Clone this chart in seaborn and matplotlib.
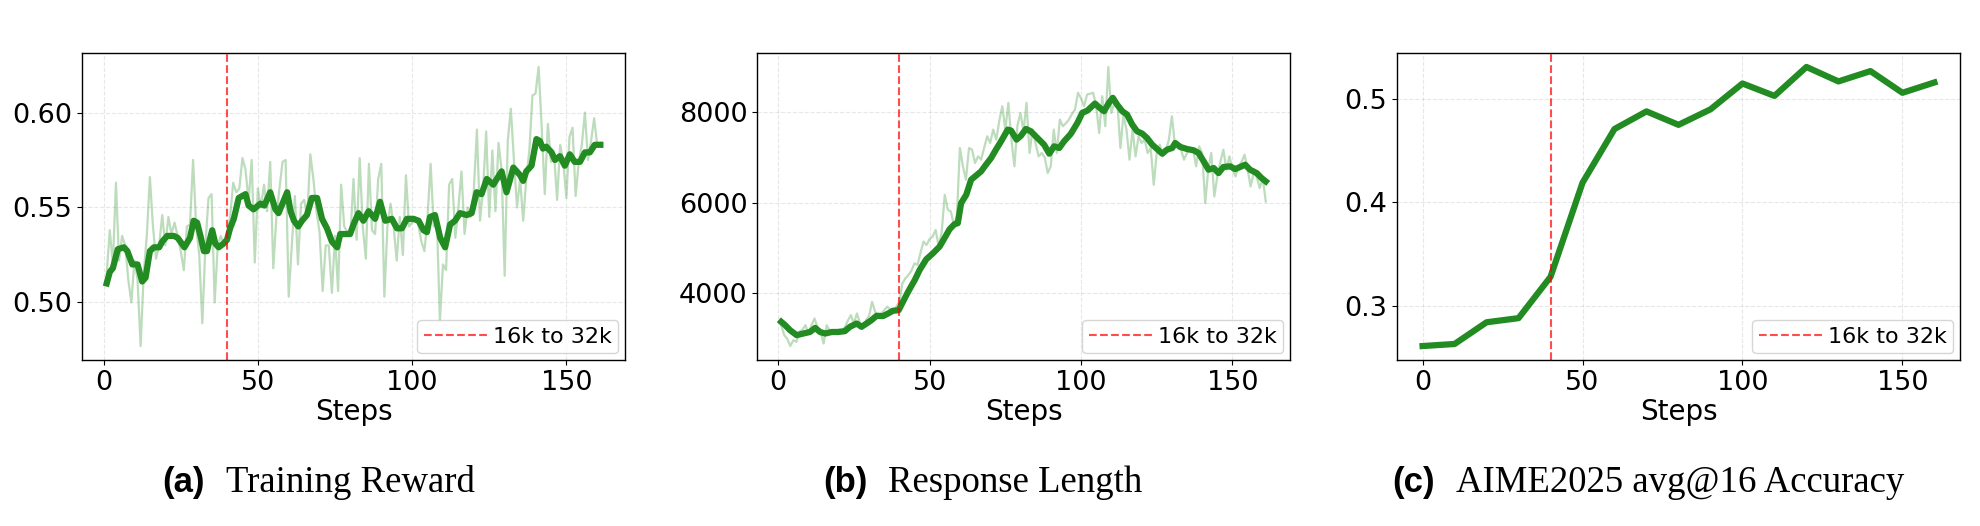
import numpy as np
import pandas as pd
import matplotlib
matplotlib.use("Agg")
import matplotlib.pyplot as plt
import seaborn as sns

# ---------------- data ----------------
steps_ab = list(range(1, 162))

reward_raw = [
    0.515, 0.538, 0.520, 0.563, 0.522, 0.535, 0.530, 0.512, 0.500, 0.522,
    0.512, 0.477, 0.515, 0.535, 0.566, 0.540, 0.523, 0.530, 0.546, 0.530,
    0.545, 0.536, 0.542, 0.535, 0.527, 0.517, 0.540, 0.541, 0.575, 0.540,
    0.525, 0.489, 0.530, 0.555, 0.557, 0.500, 0.530, 0.535, 0.530, 0.535,
    0.545, 0.563, 0.558, 0.560, 0.576, 0.570, 0.553, 0.575, 0.521, 0.560,
    0.550, 0.562, 0.548, 0.574, 0.518, 0.545, 0.560, 0.574, 0.575, 0.503,
    0.530, 0.556, 0.520, 0.552, 0.554, 0.545, 0.578, 0.565, 0.548, 0.537,
    0.506, 0.530, 0.530, 0.505, 0.535, 0.506, 0.562, 0.540, 0.537, 0.535,
    0.565, 0.533, 0.576, 0.540, 0.523, 0.573, 0.538, 0.536, 0.565, 0.573,
    0.503, 0.540, 0.552, 0.540, 0.522, 0.545, 0.525, 0.567, 0.540, 0.542,
    0.545, 0.541, 0.532, 0.527, 0.545, 0.573, 0.540, 0.545, 0.490, 0.520,
    0.517, 0.562, 0.565, 0.534, 0.550, 0.569, 0.536, 0.550, 0.545, 0.559,
    0.591, 0.543, 0.560, 0.590, 0.545, 0.580, 0.548, 0.584, 0.570, 0.514,
    0.585, 0.602, 0.575, 0.550, 0.565, 0.543, 0.565, 0.580, 0.609, 0.610,
    0.624, 0.592, 0.557, 0.594, 0.574, 0.578, 0.554, 0.583, 0.574, 0.555,
    0.587, 0.592, 0.556, 0.574, 0.583, 0.600, 0.575, 0.585, 0.597, 0.583,
    0.584,
]

reward_smooth_steps = [
    1, 2, 3, 4.6, 6.6, 7.7, 9.3, 11, 12.5, 13.6, 15, 16.3, 18, 19, 20.6, 22.8,
    24, 26.2, 28, 29.2, 30.3, 31.4, 32.5, 33.5, 35.2, 36.2, 37.3, 38.9, 40, 41,
    42.2, 43.8, 44.9, 46, 47, 48.6, 50.8, 52.1, 54, 55.7, 56.7, 59.5, 60.6,
    61.7, 63.1, 64.3, 65.9, 67.5, 69.2, 70.8, 72.4, 74, 75.7, 76.7, 78.3, 79.9,
    81, 82.6, 84.2, 85.9, 88, 89.6, 91.3, 93.4, 95.1, 96.7, 98.3, 100.4, 102.1,
    103.7, 104.8, 105.8, 107.4, 109.1, 110.7, 112.3, 113.9, 115.5, 117.7,
    119.3, 120.9, 122.5, 124.2, 126.3, 129, 130.6, 132.8, 135, 136, 137,
    138.7, 140.3, 141.4, 142.4, 143.5, 145.2, 146.3, 147.9, 149.5, 151.1,
    152.7, 154.4, 156, 157.6, 159.2, 161,
]
reward_smooth = [
    0.510, 0.516, 0.518, 0.528, 0.529, 0.527, 0.520, 0.520, 0.511, 0.513,
    0.527, 0.529, 0.529, 0.532, 0.535, 0.535, 0.534, 0.529, 0.534, 0.543,
    0.542, 0.535, 0.527, 0.527, 0.538, 0.531, 0.529, 0.531, 0.533, 0.539,
    0.544, 0.555, 0.556, 0.557, 0.551, 0.549, 0.552, 0.551, 0.558, 0.549,
    0.547, 0.558, 0.548, 0.543, 0.540, 0.543, 0.546, 0.555, 0.555, 0.544,
    0.539, 0.532, 0.529, 0.536, 0.536, 0.536, 0.541, 0.547, 0.543, 0.548,
    0.544, 0.553, 0.543, 0.544, 0.539, 0.539, 0.544, 0.544, 0.543, 0.538,
    0.537, 0.545, 0.546, 0.534, 0.529, 0.541, 0.543, 0.547, 0.546, 0.547,
    0.558, 0.557, 0.565, 0.562, 0.569, 0.558, 0.571, 0.567, 0.564, 0.569,
    0.572, 0.586, 0.585, 0.581, 0.582, 0.579, 0.575, 0.577, 0.572, 0.578,
    0.574, 0.574, 0.579, 0.579, 0.583, 0.583,
]

length_raw = [
    3300, 3080, 3000, 2840, 2969, 2932, 3153, 3200, 3300, 3116,
    3300, 3448, 3250, 3153, 2895, 3300, 3180, 3116, 3153, 3200,
    3190, 3250, 3400, 3521, 3337, 3558, 3350, 3227, 3411, 3500,
    3816, 3600, 3485, 3550, 3632, 3706, 3650, 3595, 3706, 3816,
    4221, 4332, 4405, 4500, 4663, 4626, 4900, 5142, 5068, 5200,
    5253, 5400, 5032, 5363, 6173, 5842, 5805, 5510, 5694, 7204,
    6800, 6505, 7204, 7168, 6873, 7020, 6947, 7200, 7462, 7315,
    7610, 7389, 7800, 8125, 7610, 8199, 7389, 6800, 7700, 7978,
    7573, 8199, 7094, 7610, 7300, 7020, 7094, 7000, 6652, 6800,
    7610, 7094, 7831, 7683, 7750, 7831, 7950, 8052, 8420, 8300,
    8125, 8383, 8400, 8420, 8125, 7536, 8346, 7683, 8990, 7978,
    8199, 8199, 7204, 7941, 7610, 6947, 7610, 7020, 7462, 7315,
    7389, 7094, 7200, 6394, 7094, 7278, 7020, 7131, 7389, 7904,
    7278, 7200, 7168, 6947, 7094, 7168, 7168, 6800, 7241, 7094,
    5989, 6726, 7094, 6136, 6578, 6900, 7168, 6726, 7020, 6726,
    6578, 6800, 6900, 7057, 6726, 6357, 6652, 6578, 6320, 6542,
    6026,
]

length_smooth_steps = [
    1, 2.3, 3.9, 6.1, 8.3, 10.5, 12.2, 13.8, 15.5, 17.7, 19.8, 22, 23.7, 25.9,
    27.5, 29.2, 30.8, 32.5, 34.6, 36.3, 37.9, 39.8, 41.2, 42.9, 45.1, 46.7,
    48.9, 51.1, 53.3, 54.9, 56.6, 58.2, 59.3, 60.4, 62.1, 63.7, 65.4, 67,
    68.6, 70.3, 71.9, 73.6, 75.8, 76.9, 78.7, 80.2, 81.8, 83.4, 85.6, 87.8,
    89.5, 91.1, 92.8, 94.4, 96.6, 98.8, 100.4, 102.1, 104.6, 105.9, 107.6,
    109.2, 110.5, 111.9, 113.6, 115.2, 116.9, 118.5, 120.2, 121.8, 123.5,
    125.1, 126.8, 128.4, 130.1, 131.1, 132.8, 135, 137.2, 138.8, 140.5,
    142.1, 143.8, 145.4, 147, 149.2, 150.9, 152.5, 154.2, 155.8, 158, 159.6,
    161,
]
length_smooth = [
    3374, 3300, 3190, 3080, 3116, 3150, 3240, 3150, 3116, 3150, 3150, 3168,
    3264, 3337, 3264, 3337, 3411, 3507, 3500, 3558, 3617, 3632, 3816, 4037,
    4295, 4516, 4752, 4884, 5032, 5216, 5415, 5525, 5547, 5989, 6173, 6505,
    6600, 6689, 6836, 6983, 7168, 7352, 7610, 7588, 7389, 7477, 7624, 7573,
    7425, 7278, 7079, 7241, 7204, 7352, 7514, 7757, 7978, 8029, 8184, 8103,
    8015, 8199, 8309, 8162, 8015, 7941, 7720, 7573, 7521, 7425, 7278, 7182,
    7079, 7168, 7204, 7315, 7227, 7182, 7153, 7094, 6910, 6726, 6763, 6652,
    6785, 6800, 6740, 6785, 6836, 6726, 6652, 6542, 6468,
]

aime_steps = [0, 10, 20, 30, 40, 50, 60, 70, 80, 90, 100, 110, 120, 130, 140, 150, 160]
aime_acc = [0.261, 0.263, 0.284, 0.288, 0.328, 0.419, 0.471, 0.488, 0.475,
            0.490, 0.515, 0.503, 0.531, 0.517, 0.527, 0.506, 0.516]

switch_step = 40
switch_label = "16k to 32k"
x_label = "Steps"
caption_tags = ["(a)", "(b)", "(c)"]
caption_titles = ["Training Reward", "Response Length", "AIME2025 avg@16 Accuracy"]

# ---------------- figure ----------------
W, H = 1980, 526
fig = plt.figure(figsize=(W / 100, H / 100), dpi=100)

def px_axes(left, right, top, bottom):
    return fig.add_axes([left / W, 1 - bottom / H, (right - left) / W, (bottom - top) / H])

ax_a = px_axes(82, 625, 53, 360)
ax_b = px_axes(757, 1290, 53, 360)
ax_c = px_axes(1397, 1960, 53, 360)

green = "#228B22"

def draw_raw_smooth(ax, raw, sm_steps, sm_vals):
    df_raw = pd.DataFrame({"step": steps_ab, "value": raw})
    df_sm = pd.DataFrame({"step": sm_steps, "value": sm_vals})
    sns.lineplot(data=df_raw, x="step", y="value", ax=ax, color=green,
                 alpha=0.3, linewidth=1.6, estimator=None, sort=False)
    sns.lineplot(data=df_sm, x="step", y="value", ax=ax, color=green,
                 linewidth=4.5, estimator=None, sort=False)

draw_raw_smooth(ax_a, reward_raw, reward_smooth_steps, reward_smooth)
draw_raw_smooth(ax_b, length_raw, length_smooth_steps, length_smooth)

df_c = pd.DataFrame({"step": aime_steps, "value": aime_acc})
sns.lineplot(data=df_c, x="step", y="value", ax=ax_c, color=green,
             linewidth=4.5, estimator=None, sort=False)

for ax in (ax_a, ax_b, ax_c):
    ax.axvline(switch_step, color="red", linestyle="--", linewidth=1.5,
               alpha=0.7, label=switch_label)
    ax.grid(True, linestyle="--", alpha=0.3)
    ax.set_xlabel(x_label, fontsize=20, labelpad=2)
    ax.set_ylabel("")
    ax.tick_params(axis="both", labelsize=19.5)
    ax.set_xticks([0, 50, 100, 150])
    ax.legend(loc="lower right", fontsize=16, handlelength=2.9,
              handletextpad=0.2, borderpad=0.3, borderaxespad=0.3)
    for sp in ax.spines.values():
        sp.set_color("black")
        sp.set_linewidth(1.0)

ax_a.set_yticks([0.50, 0.55, 0.60])
ax_a.yaxis.set_major_formatter(matplotlib.ticker.FormatStrFormatter("%.2f"))
ax_b.set_yticks([4000, 6000, 8000])
ax_c.set_yticks([0.3, 0.4, 0.5])

# ---------------- captions ----------------
cap_left = [162, 823, 1392]
cap_base = 492
fig.canvas.draw()
renderer = fig.canvas.get_renderer()
for xl, tag, title in zip(cap_left, caption_tags, caption_titles):
    t = fig.text(xl / W, 1 - cap_base / H, tag, fontsize=25,
                 fontweight="bold", family="Liberation Sans",
                 ha="left", va="baseline")
    bb = t.get_window_extent(renderer=renderer)
    fig.text((bb.x1 + 21) / W, 1 - cap_base / H, title, fontsize=26.5,
             family="Liberation Serif", ha="left", va="baseline")

fig.savefig("out.png", dpi=100)
